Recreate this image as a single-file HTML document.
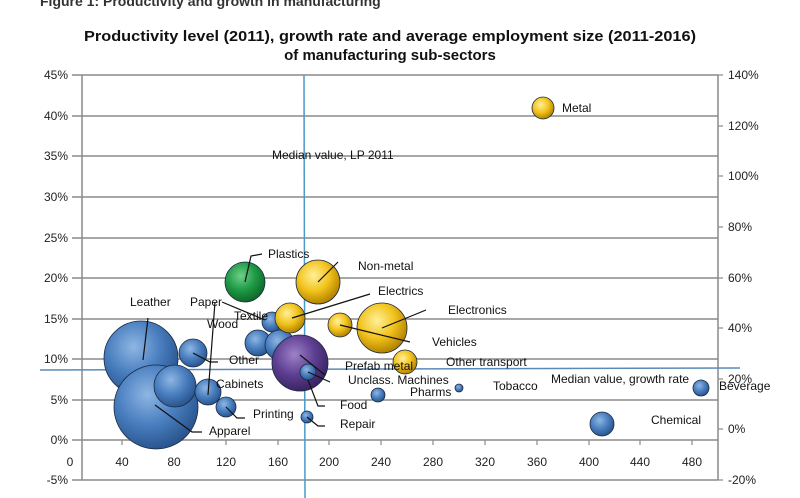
<!DOCTYPE html>
<html><head><meta charset="utf-8"><style>
body{margin:0;background:#fff;}
svg{display:block;font-family:"Liberation Sans",sans-serif;}
</style></head><body>
<svg width="800" height="498" viewBox="0 0 800 498">
<defs>
<radialGradient id="b" cx="40%" cy="35%" r="65%"><stop offset="0" stop-color="#8fb6e3"/><stop offset="0.55" stop-color="#4a7fc0"/><stop offset="1" stop-color="#2b5690"/></radialGradient>
<radialGradient id="y" cx="40%" cy="35%" r="65%"><stop offset="0" stop-color="#fff09a"/><stop offset="0.55" stop-color="#f2c31c"/><stop offset="1" stop-color="#b48400"/></radialGradient>
<radialGradient id="g" cx="40%" cy="35%" r="65%"><stop offset="0" stop-color="#6fd08a"/><stop offset="0.55" stop-color="#1f9a45"/><stop offset="1" stop-color="#0e6a2a"/></radialGradient>
<radialGradient id="p" cx="40%" cy="35%" r="65%"><stop offset="0" stop-color="#9d82c8"/><stop offset="0.55" stop-color="#5f3f93"/><stop offset="1" stop-color="#3a2464"/></radialGradient>
</defs>
<text x="40" y="6" font-size="14" font-weight="bold" fill="#333">Figure 1: Productivity and growth in manufacturing</text>
<text x="390" y="41" font-size="15" font-weight="bold" text-anchor="middle" fill="#111" textLength="612" lengthAdjust="spacingAndGlyphs">Productivity level (2011), growth rate and average employment size (2011-2016)</text>
<text x="390" y="60" font-size="15" font-weight="bold" text-anchor="middle" fill="#111">of manufacturing sub-sectors</text>
<g stroke="#8a8a8a" stroke-width="1.5">
<line x1="72" y1="75" x2="718" y2="75"/><line x1="72" y1="116" x2="718" y2="116"/><line x1="72" y1="156" x2="718" y2="156"/><line x1="72" y1="197" x2="718" y2="197"/><line x1="72" y1="238" x2="718" y2="238"/><line x1="72" y1="278" x2="718" y2="278"/><line x1="72" y1="319" x2="718" y2="319"/><line x1="72" y1="359" x2="718" y2="359"/><line x1="72" y1="400" x2="718" y2="400"/><line x1="72" y1="440" x2="718" y2="440"/><line x1="72" y1="480" x2="718" y2="480"/>
<line x1="82" y1="75" x2="82" y2="480"/><line x1="718" y1="75" x2="718" y2="480"/>
</g>
<g stroke="#8a8a8a" stroke-width="1.2">
<line x1="122" y1="440" x2="122" y2="445"/><line x1="174" y1="440" x2="174" y2="445"/><line x1="226" y1="440" x2="226" y2="445"/><line x1="278" y1="440" x2="278" y2="445"/><line x1="329" y1="440" x2="329" y2="445"/><line x1="381" y1="440" x2="381" y2="445"/><line x1="433" y1="440" x2="433" y2="445"/><line x1="485" y1="440" x2="485" y2="445"/><line x1="537" y1="440" x2="537" y2="445"/><line x1="589" y1="440" x2="589" y2="445"/><line x1="640" y1="440" x2="640" y2="445"/><line x1="692" y1="440" x2="692" y2="445"/>
<line x1="718" y1="75" x2="723" y2="75"/><line x1="718" y1="126" x2="723" y2="126"/><line x1="718" y1="176" x2="723" y2="176"/><line x1="718" y1="227" x2="723" y2="227"/><line x1="718" y1="278" x2="723" y2="278"/><line x1="718" y1="328" x2="723" y2="328"/><line x1="718" y1="379" x2="723" y2="379"/><line x1="718" y1="429" x2="723" y2="429"/><line x1="718" y1="480" x2="723" y2="480"/>
</g>
<g font-size="12" fill="#222" text-anchor="end">
<text x="68" y="79">45%</text><text x="68" y="120">40%</text><text x="68" y="160">35%</text><text x="68" y="201">30%</text><text x="68" y="242">25%</text><text x="68" y="282">20%</text><text x="68" y="323">15%</text><text x="68" y="363">10%</text><text x="68" y="404">5%</text><text x="68" y="444">0%</text><text x="68" y="484">-5%</text>
</g>
<g font-size="12" fill="#222">
<text x="728" y="79">140%</text><text x="728" y="130">120%</text><text x="728" y="180">100%</text><text x="728" y="231">80%</text><text x="728" y="282">60%</text><text x="728" y="332">40%</text><text x="728" y="383">20%</text><text x="728" y="433">0%</text><text x="728" y="484">-20%</text>
</g>
<g font-size="12" fill="#222" text-anchor="middle">
<text x="70" y="466">0</text><text x="122" y="466">40</text><text x="174" y="466">80</text><text x="226" y="466">120</text><text x="278" y="466">160</text><text x="329" y="466">200</text><text x="381" y="466">240</text><text x="433" y="466">280</text><text x="485" y="466">320</text><text x="537" y="466">360</text><text x="589" y="466">400</text><text x="640" y="466">440</text><text x="692" y="466">480</text>
</g>
<line x1="304" y1="75" x2="305" y2="498" stroke="#4b9ac8" stroke-width="1.5"/>
<line x1="40" y1="370" x2="740" y2="368" stroke="#5a8ab8" stroke-width="1.5"/>
<g stroke="#1a2a40" stroke-width="0.8">
<circle cx="141" cy="358" r="37" fill="url(#b)"/>
<circle cx="156" cy="407" r="42" fill="url(#b)"/>
<circle cx="175" cy="386" r="21" fill="url(#b)"/>
<circle cx="193" cy="353" r="14" fill="url(#b)"/>
<circle cx="208" cy="392" r="13" fill="url(#b)"/>
<circle cx="226" cy="407" r="10" fill="url(#b)"/>
<circle cx="245" cy="282" r="20" fill="url(#g)"/>
<circle cx="318" cy="282" r="22" fill="url(#y)"/>
<circle cx="258" cy="343" r="13" fill="url(#b)"/>
<circle cx="272" cy="322" r="10" fill="url(#b)"/>
<circle cx="280" cy="345" r="15" fill="url(#b)"/>
<circle cx="290" cy="318" r="15" fill="url(#y)"/>
<circle cx="300" cy="363" r="28" fill="url(#p)"/>
<circle cx="308" cy="372" r="8" fill="url(#b)"/>
<circle cx="307" cy="417" r="6" fill="url(#b)"/>
<circle cx="340" cy="325" r="12" fill="url(#y)"/>
<circle cx="382" cy="328" r="25" fill="url(#y)"/>
<circle cx="405" cy="362" r="12" fill="url(#y)"/>
<circle cx="378" cy="395" r="7" fill="url(#b)"/>
<circle cx="543" cy="108" r="11" fill="url(#y)"/>
<circle cx="459" cy="388" r="4" fill="url(#b)"/>
<circle cx="701" cy="388" r="8" fill="url(#b)"/>
<circle cx="602" cy="424" r="12" fill="url(#b)"/>
</g>
<g stroke="#111" stroke-width="1.2" fill="none">
<polyline points="148,318 143,360"/>
<polyline points="215,302 208,395"/>
<polyline points="193,353 210,362 218,362"/>
<polyline points="155,405 192,432 202,432"/>
<polyline points="226,407 237,418 245,418"/>
<polyline points="245,282 251,256 262,254"/>
<polyline points="318,282 338,262"/>
<polyline points="292,318 370,294"/>
<polyline points="222,302 265,320"/>
<polyline points="340,325 410,342"/>
<polyline points="382,328 426,310"/>
<polyline points="300,355 325,375"/>
<polyline points="308,372 330,382"/>
<polyline points="308,380 318,406 325,406"/>
<polyline points="307,417 318,426 325,426"/>
</g>
<g font-size="12" fill="#111">
<text x="562" y="112">Metal</text>
<text x="272" y="159">Median value, LP 2011</text>
<text x="268" y="258">Plastics</text>
<text x="358" y="270">Non-metal</text>
<text x="378" y="295">Electrics</text>
<text x="448" y="314">Electronics</text>
<text x="432" y="346">Vehicles</text>
<text x="446" y="366">Other transport</text>
<text x="130" y="306">Leather</text>
<text x="190" y="306">Paper</text>
<text x="234" y="320">Textile</text>
<text x="207" y="328">Wood</text>
<text x="229" y="364">Other</text>
<text x="216" y="388">Cabinets</text>
<text x="209" y="435">Apparel</text>
<text x="253" y="418">Printing</text>
<text x="345" y="370">Prefab metal</text>
<text x="348" y="384">Unclass. Machines</text>
<text x="340" y="409">Food</text>
<text x="340" y="428">Repair</text>
<text x="410" y="396">Pharms</text>
<text x="493" y="390">Tobacco</text>
<text x="551" y="383">Median value, growth rate</text>
<text x="719" y="390">Beverage</text>
<text x="651" y="424">Chemical</text>
</g>
</svg>
</body></html>
